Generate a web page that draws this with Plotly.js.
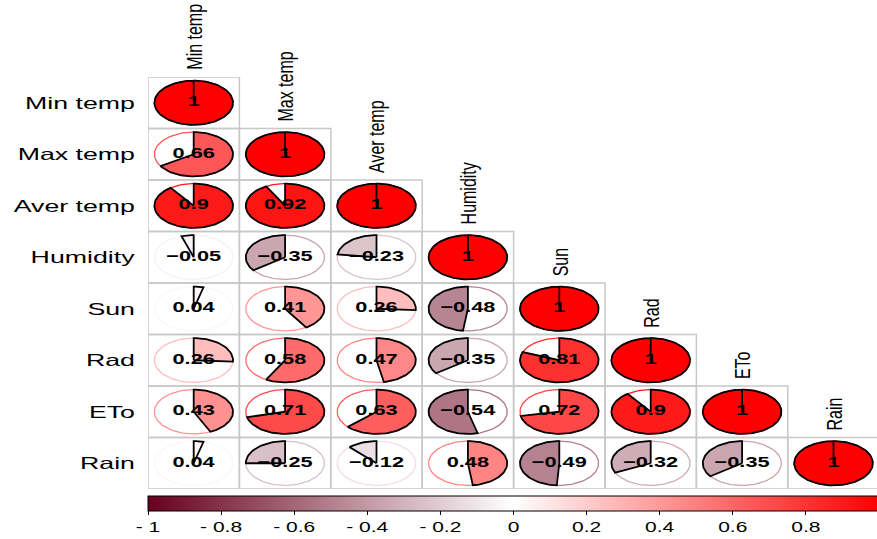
<!DOCTYPE html>
<html>
<head>
<meta charset="utf-8">
<script src="https://cdn.plot.ly/plotly-3.0.1.min.js"></script>
<style>
html,body{margin:0;padding:0;background:#fff;}
#chart{width:877px;height:539px;}
#chart text.annotation-text{transform-box:fill-box;transform-origin:center;transform:scale(1,1.4);}
#chart g.colorbar g.cbaxis > g{transform-box:fill-box;transform-origin:center;transform:scale(1.5,1);}
</style>
</head>
<body>
<div id="chart"></div>
<script>
// ---- data ----
const vars = ['Min temp', 'Max temp', 'Aver temp', 'Humidity', 'Sun', 'Rad', 'ETo', 'Rain'];
const rowMinTemp  = [1];
const rowMaxTemp  = [0.66, 1];
const rowAverTemp = [0.9, 0.92, 1];
const rowHumidity = [-0.05, -0.35, -0.23, 1];
const rowSun      = [0.04, 0.41, 0.26, -0.48, 1];
const rowRad      = [0.26, 0.58, 0.47, -0.35, 0.81, 1];
const rowETo      = [0.43, 0.71, 0.63, -0.54, 0.72, 0.9, 1];
const rowRain     = [0.04, -0.25, -0.12, 0.48, -0.49, -0.32, -0.35, 1];
const corrRows = [rowMinTemp, rowMaxTemp, rowAverTemp, rowHumidity, rowSun, rowRad, rowETo, rowRain];
const cbTickVals = [-1, -0.8, -0.6, -0.4, -0.2, 0, 0.2, 0.4, 0.6, 0.8, 1];
const cbTickText = ['- 1', '- 0.8', '- 0.6', '- 0.4', '- 0.2', '0', '0.2', '0.4', '0.6', '0.8', '1'];

// ---- style ----
const colorStops = [[0, [103, 0, 31]], [0.5, [255, 255, 255]], [1, [255, 0, 0]]];
const colorscale = colorStops.map(s => [s[0], 'rgb(' + s[1].join(',') + ')']);
function colorOf(v) {
  const t = (v + 1) / 2;
  for (let k = 0; k < colorStops.length - 1; k++) {
    const a = colorStops[k], b = colorStops[k + 1];
    if (t >= a[0] && t <= b[0]) {
      const f = (t - a[0]) / (b[0] - a[0]);
      const c = a[1].map((x, i) => Math.round(x + (b[1][i] - x) * f));
      return 'rgb(' + c.join(',') + ')';
    }
  }
  return 'rgb(255,0,0)';
}
const RX = 0.43, RY = 0.43, NPTS = 120;
const FONT = 'Liberation Sans, Arial, sans-serif';

const traces = [];
const shapes = [];
const tx = [], ty = [], tt = [], tv = [];
corrRows.forEach((row, r) => {
  const yi = r + 1;
  row.forEach((v, c) => {
    const xi = c + 1;
    const col = colorOf(v);
    shapes.push({type: 'rect', xref: 'x', yref: 'y', x0: xi - 0.5, x1: xi + 0.5, y0: yi - 0.5, y1: yi + 0.5,
      line: {color: '#c8c8c8', width: 1.5}, fillcolor: 'rgba(0,0,0,0)', layer: 'below'});
    const ex = [], ey = [];
    for (let k = 0; k <= NPTS; k++) {
      const t = 2 * Math.PI * k / NPTS;
      ex.push(xi + RX * Math.sin(t));
      ey.push(yi - RY * Math.cos(t));
    }
    traces.push({type: 'scatter', mode: 'lines', x: ex, y: ey, line: {color: col, width: 1.3},
      hoverinfo: 'skip', showlegend: false});
    const sx = [xi], sy = [yi];
    const n = Math.max(2, Math.round(NPTS * Math.abs(v)));
    for (let k = 0; k <= n; k++) {
      const t = 2 * Math.PI * v * k / n;
      sx.push(xi + RX * Math.sin(t));
      sy.push(yi - RY * Math.cos(t));
    }
    sx.push(xi); sy.push(yi);
    traces.push({type: 'scatter', mode: 'lines', x: sx, y: sy, fill: 'toself', fillcolor: col,
      line: {color: 'black', width: 1.8}, hoverinfo: 'skip', showlegend: false});
    tx.push(xi); ty.push(yi); tv.push(v);
    tt.push(v < 0 ? '\u2212' + Math.abs(v) : String(v));
  });
});

traces.push({
  type: 'scatter', mode: 'text', x: tx, y: ty, text: tt,
  textfont: {family: FONT, size: 15, color: 'black', weight: 'bold'},
  hoverinfo: 'skip', showlegend: false
});
// colour legend (invisible markers carrying the colour scale)
traces.push({
  type: 'scatter', mode: 'markers', x: tx, y: ty, hoverinfo: 'skip', showlegend: false,
  marker: {color: tv, colorscale: colorscale, cmin: -1, cmax: 1, showscale: true, size: 1, opacity: 0,
    colorbar: {orientation: 'h', x: 0, xanchor: 'left', y: -0.017, yanchor: 'top',
      len: 731, lenmode: 'pixels', thickness: 15, thicknessmode: 'pixels', xpad: 0, ypad: 0,
      outlinecolor: 'black', outlinewidth: 1, borderwidth: 0,
      tickvals: cbTickVals, ticktext: cbTickText, ticks: 'outside', ticklen: 4, tickcolor: 'black', tickwidth: 1,
      tickfont: {family: FONT, size: 14, color: 'black'}}}
});

const annotations = vars.map((name, i) => ({
  x: i + 1, y: i + 0.5, xref: 'x', yref: 'y', text: name, showarrow: false, textangle: -90,
  xanchor: 'center', yanchor: 'bottom', yshift: 5,
  font: {family: FONT, size: 16, color: 'black'}
}));

const layout = {
  width: 877, height: 539,
  margin: {l: 148, r: 0, t: 77, b: 50, pad: 0, autoexpand: false},
  paper_bgcolor: 'white', plot_bgcolor: 'white',
  xaxis: {range: [0.5, 0.5 + 729 / 91.4], showgrid: false, zeroline: false, showline: false,
    showticklabels: false, ticks: '', fixedrange: true, automargin: false},
  yaxis: {range: [8.5, 0.5], showgrid: false, zeroline: false, showline: false, ticks: '',
    tickvals: vars.map((_, i) => i + 1), ticktext: vars, ticklabelstandoff: 12, automargin: false,
    tickfont: {family: FONT, size: 16.5, color: 'black'}, fixedrange: true},
  shapes: shapes,
  annotations: annotations,
  showlegend: false
};

function stretch(el, sx, sy, anchor) {
  try {
    const cur = el.getAttribute('transform') || '';
    if (el.__mine !== undefined && cur === el.__mine) return;
    const b = el.getBBox();
    if (!b.width) return;
    const ox = anchor === 'right' ? b.x + b.width : b.x + b.width / 2;
    const oy = b.y + b.height / 2;
    el.setAttribute('transform', cur + ' translate(' + ox + ',' + oy + ') scale(' + sx + ',' + sy + ') translate(' + (-ox) + ',' + (-oy) + ')');
    el.__mine = el.getAttribute('transform');
  } catch (e) { /* ignore */ }
}
function applyStretch() {
  const gd = document.getElementById('chart');
  gd.querySelectorAll('.yaxislayer-above .ytick text').forEach(el => stretch(el, 1.62, 1, 'right'));
  gd.querySelectorAll('.textpoint text').forEach(el => stretch(el, 1.45, 1, 'center'));
}

Plotly.newPlot('chart', traces, layout, {staticPlot: true, responsive: false}).then(gd => {
  applyStretch();
  setTimeout(applyStretch, 50);
});
</script>
</body>
</html>
